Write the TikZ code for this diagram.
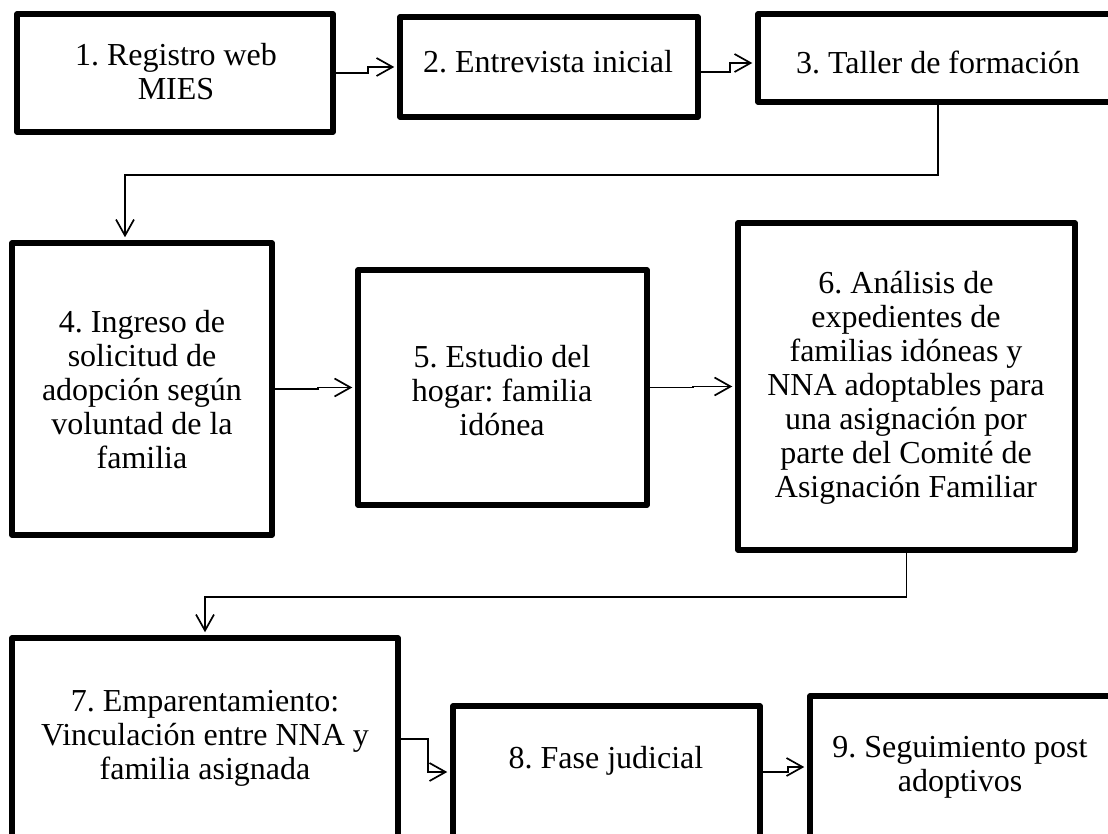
\documentclass[tikz,border=0pt]{standalone}
\usepackage{fontspec}
\setmainfont{Liberation Serif}
\frenchspacing
\usetikzlibrary{arrows.meta,calc}
\tikzset{
  box/.style={draw=black, line width=5.5pt, line join=round, rectangle, inner sep=0pt, fill=none},
  txt/.style={align=center, inner sep=0pt, font=\fontsize{32}{34}\selectfont},
  conn/.style={draw=black, line width=1.7pt, -{Straight Barb[length=16pt,width=18pt,line width=1.7pt]}, shorten >=3pt}
}
\begin{document}
\begin{tikzpicture}[x=1pt,y=-1pt]
\useasboundingbox (0,0) rectangle (1108,834);
\clip (0,0) rectangle (1108,834);
\fill[white] (0,0) rectangle (1108,834);
% boxes
\node[box, minimum width=316pt, minimum height=118pt] (b1) at (175,73) {};
\node[box, minimum width=298pt, minimum height=100pt] (b2) at (549,67) {};
\node[box, minimum width=360pt, minimum height=88pt] (b3) at (938,58) {};
\node[box, minimum width=260pt, minimum height=292pt] (b4) at (142,389) {};
\node[box, minimum width=289pt, minimum height=235pt] (b5) at (502.5,387.5) {};
\node[box, minimum width=337pt, minimum height=327pt] (b6) at (906.5,386.5) {};
\node[box, minimum width=386pt, minimum height=202pt] (b7) at (205,739) {};
\node[box, minimum width=307pt, minimum height=132pt] (b8) at (606.5,772) {};
\node[box, minimum width=310pt, minimum height=142pt] (b9) at (965,767) {};
% texts
\node[txt] (t1) at (176,72) {1. Registro web\\MIES};
\node[txt] (t2) at (548,62) {2. Entrevista inicial};
\node[txt] (t3) at (938,62) {3. Taller de formación};
\node[txt] (t4) at (142,390) {4. Ingreso de\\solicitud de\\adopción según\\voluntad de la\\familia};
\node[txt] (t5) at (502,391) {5. Estudio del\\hogar: familia\\idónea};
\node[txt] (t6) at (906,388) {6. Análisis de\\expedientes de\\familias idóneas y\\NNA adoptables para\\una asignación por\\parte del Comité de\\Asignación Familiar};
\node[txt] (t7) at (205,738) {7. Emparentamiento:\\Vinculación entre NNA y\\familia asignada};
\node[txt] (t8) at (606,761) {8. Fase judicial};
\node[txt] (t9) at (960,767) {9. Seguimiento post\\adoptivos};
% connectors
\draw[conn] (b1.east) -- ++(32,0) |- (b2.west);
\draw[conn] ($(b2.east)+(0,5)$) -- ++(29,0) |- ($(b3.west)+(0,5)$);
\draw[conn] (b3.south) -- ++(0,70) -| ($(b4.north)+(-17,0)$);
\draw[conn] (b4.east) -- ++(43,0) |- (b5.west);
\draw[conn] (b5.east) -- ++(43,0) |- (b6.west);
\draw[conn] (b6.south) -- ++(0,44.5) -| (b7.north);
\draw[conn] (b7.east) -- ++(27,0) |- (b8.west);
\draw[conn] (b8.east) -- ++(25,0) |- (b9.west);
\end{tikzpicture}
\end{document}
